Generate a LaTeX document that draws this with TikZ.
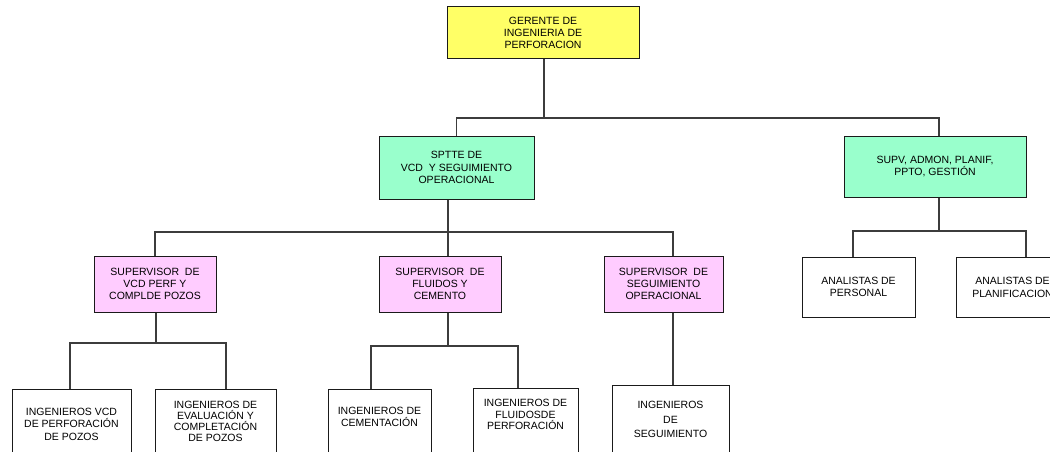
\documentclass[tikz,border=0pt]{standalone}
\usepackage{fontspec}
\newfontfamily\orgfont{Liberation Sans}
\usetikzlibrary{calc}
\definecolor{gerfill}{HTML}{FFFF66}
\definecolor{sptfill}{HTML}{99FFCC}
\definecolor{supfill}{HTML}{FFCCFF}
\definecolor{boxline}{HTML}{1A1A1A}
\definecolor{connline}{HTML}{3C3C3C}
\tikzset{
  orgbox/.style={draw=boxline, line width=1pt, align=center, inner sep=0pt,
    font=\orgfont\fontsize{10.5}{12.3}\selectfont},
  lowbox/.style={orgbox, fill=white, anchor=north, minimum height=80pt},
  lowtxt/.style={anchor=north, inner sep=0pt, align=center,
    font=\orgfont\fontsize{10.5}{12.3}\selectfont},
  conn/.style={draw=connline, line width=1.3pt},
}
\begin{document}
\begin{tikzpicture}[x=1pt,y=-1pt]
\useasboundingbox (0,0) rectangle (1050,452);
\clip (0,0) rectangle (1050,452);
\node[orgbox, fill=gerfill, minimum width=192pt, minimum height=52pt] (gerente) at (543,33) {GERENTE DE\\INGENIERIA DE\\PERFORACION};
\node[orgbox, fill=sptfill, minimum width=155pt, minimum height=63pt] (sptte) at (456.5,167.5) {SPTTE DE\\VCD\ \ Y SEGUIMIENTO\\OPERACIONAL};
\node[orgbox, fill=sptfill, minimum width=182pt, minimum height=61pt] (supv) at (935,166.5) {SUPV, ADMON, PLANIF,\\PPTO, GESTIÓN};
\node[orgbox, fill=supfill, minimum width=122pt, minimum height=56pt] (supvcd) at (155,284) {SUPERVISOR\ \ DE\\VCD PERF Y\\COMPLDE POZOS};
\node[orgbox, fill=supfill, minimum width=122pt, minimum height=56pt] (supflu) at (440,284) {SUPERVISOR\ \ DE\\FLUIDOS Y\\CEMENTO};
\node[orgbox, fill=supfill, minimum width=119pt, minimum height=56pt] (supseg) at (663.5,284) {SUPERVISOR\ \ DE\\SEGUIMIENTO\\OPERACIONAL};
\node[orgbox, fill=white, minimum width=113pt, minimum height=60pt] (anper) at (858.5,287) {ANALISTAS DE\\PERSONAL};
\node[orgbox, fill=white, minimum width=113pt, minimum height=60pt] (anplan) at (1012.5,287.5) {ANALISTAS DE\\PLANIFICACION};
\node[lowbox, minimum width=119pt, label={[lowtxt, yshift=-19pt]north:{INGENIEROS VCD\\DE PERFORACIÓN\\DE POZOS}}] (ingvcd) at (71.5,389) {};
\node[lowbox, minimum width=121pt, label={[lowtxt, yshift=-12pt, font=\orgfont\fontsize{10.5}{11}\selectfont]north:{INGENIEROS DE\\EVALUACIÓN Y\\COMPLETACIÓN\\DE POZOS}}] (ingeval) at (215.5,389) {};
\node[lowbox, minimum width=103pt, label={[lowtxt, yshift=-18pt]north:{INGENIEROS DE\\CEMENTACIÓN}}] (ingcem) at (379.5,389) {};
\node[lowbox, minimum width=105pt, label={[lowtxt, yshift=-11pt, font=\orgfont\fontsize{10.5}{11.7}\selectfont]north:{INGENIEROS DE\\FLUIDOSDE\\PERFORACIÓN}}] (ingflu) at (525.5,388) {};
\node[lowbox, minimum width=117pt, label={[lowtxt, yshift=-16pt, font=\orgfont\fontsize{10.5}{14.5}\selectfont]north:{INGENIEROS\\DE\\SEGUIMIENTO}}] (ingseg) at (670.5,385) {};
\coordinate (busG) at (544,118);
\coordinate (busS) at (448,232);
\coordinate (busU) at (939,231);
\coordinate (busV) at (156,343);
\coordinate (busF) at (448,346);
\coordinate (dropSeg) at ($(supseg.south)+(9.5,0)$);
\draw[conn] (gerente.south -| busG) -- (busG);
\draw[conn] (sptte.north) |- (busG) -| ($(supv.north)+(4,0)$);
\draw[conn] (sptte.south -| busS) -- (busS);
\draw[conn] (supvcd.north) |- (busS) -| ($(supseg.north)+(9.5,0)$);
\draw[conn] (busS) -- (supflu.north -| busS);
\draw[conn] (supv.south -| busU) -- (busU);
\draw[conn] ($(anper.north)+(-5.5,0)$) |- (busU) -| ($(anplan.north)+(13.5,0)$);
\draw[conn] (supvcd.south -| busV) -- (busV);
\draw[conn] ($(ingvcd.north)+(-1.5,0)$) |- (busV) -| ($(ingeval.north)+(10.5,0)$);
\draw[conn] (supflu.south -| busF) -- (busF);
\draw[conn] ($(ingcem.north)+(-8.5,0)$) |- (busF) -| ($(ingflu.north)+(-7.5,0)$);
\draw[conn] (dropSeg) -- (dropSeg |- ingseg.north);
\end{tikzpicture}
\end{document}
